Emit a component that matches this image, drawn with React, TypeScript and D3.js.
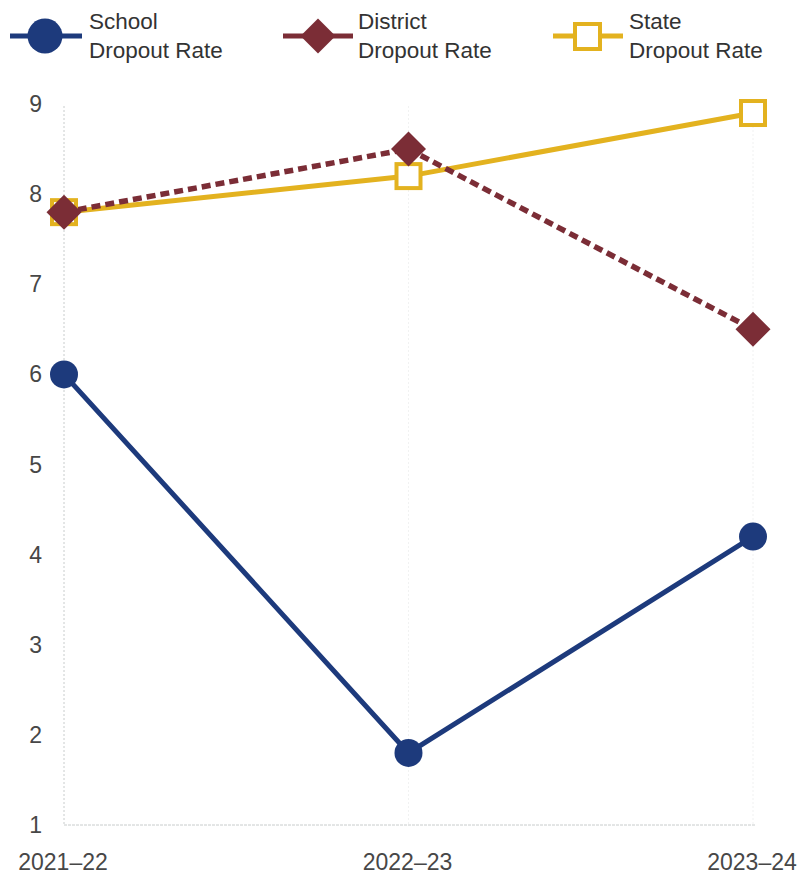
import React from "react";
import * as d3 from "d3";

const years = ["2021–22", "2022–23", "2023–24"];
const schoolRates = [6.0, 1.8, 4.2];
const districtRates = [7.8, 8.5, 6.5];
const stateRates = [7.8, 8.2, 8.9];
const yTicks = [1, 2, 3, 4, 5, 6, 7, 8, 9];

const W = 804;
const H = 880;
const FONT = "'Liberation Sans', Arial, sans-serif";

export default function App() {
  const x = d3.scalePoint<string>().domain(years).range([64, 753]);
  const y = d3.scaleLinear().domain([1, 9]).range([825, 104]);

  const line = d3
    .line<number>()
    .x((_, i) => x(years[i]) as number)
    .y((d) => y(d));

  const blue = "#1d3a7c";
  const maroon = "#7b2d36";
  const gold = "#e3b21f";

  const diamond = (cx: number, cy: number, r: number) =>
    `M${cx},${cy - r}L${cx + r},${cy}L${cx},${cy + r}L${cx - r},${cy}Z`;

  const legendFont = 22.5;
  const labelFont = 23;

  return (
    <svg
      width={W}
      height={H}
      style={{ position: "absolute", left: 0, top: 0, background: "#fff" }}
      fontFamily={FONT}
    >
      <rect width={W} height={H} fill="#fff" />
      {/* faint vertical gridlines */}
      {years.map((yr, i) => (
        <line
          key={yr}
          x1={x(yr)}
          x2={x(yr)}
          y1={y(9) + 2}
          y2={y(1)}
          stroke="#c8cccc"
          strokeWidth={1}
          strokeDasharray="2,2"
          opacity={i === 0 ? 1 : 0.25}
        />
      ))}
      {/* bottom axis line */}
      <line x1={64} x2={755} y1={y(1)} y2={y(1)} stroke="#c8cccc" strokeWidth={1} strokeDasharray="3,1" />

      {/* y tick labels */}
      {yTicks.map((t) => (
        <text key={t} x={42} y={y(t) + 8} fontSize={labelFont} fill="#474747" textAnchor="end">
          {t}
        </text>
      ))}
      {/* x labels */}
      {years.map((yr) => (
        <text key={yr} x={(x(yr) as number) - 1} y={870} fontSize={labelFont} fill="#474747" textAnchor="middle">
          {yr}
        </text>
      ))}

      {/* State line */}
      <path d={line(stateRates) || ""} fill="none" stroke={gold} strokeWidth={5} />
      {/* District line */}
      <path d={line(districtRates) || ""} fill="none" stroke={maroon} strokeWidth={5.5} strokeDasharray="9,5" />
      {/* School line */}
      <path d={line(schoolRates) || ""} fill="none" stroke={blue} strokeWidth={5} />

      {/* State markers */}
      {stateRates.map((v, i) => (
        <rect
          key={"s" + i}
          x={(x(years[i]) as number) - 12}
          y={y(v) - 12}
          width={24}
          height={24}
          fill="#fff"
          stroke={gold}
          strokeWidth={4}
        />
      ))}
      {/* District markers */}
      {districtRates.map((v, i) => (
        <path key={"d" + i} d={diamond(x(years[i]) as number, y(v), 17.5)} fill={maroon} />
      ))}
      {/* School markers */}
      {schoolRates.map((v, i) => (
        <circle key={"c" + i} cx={x(years[i]) as number} cy={y(v)} r={14} fill={blue} />
      ))}

      {/* Legend */}
      <g>
        <line x1={10} x2={82} y1={36} y2={36} stroke={blue} strokeWidth={5} />
        <circle cx={45} cy={36} r={17.5} fill={blue} />
        <text x={89} y={29} fontSize={legendFont} fill="#333">School</text>
        <text x={89} y={58} fontSize={legendFont} fill="#333">Dropout Rate</text>

        <line x1={283} x2={353} y1={36} y2={36} stroke={maroon} strokeWidth={5} />
        <path d={diamond(318, 36, 17.5)} fill={maroon} />
        <text x={358} y={29} fontSize={legendFont} fill="#333">District</text>
        <text x={358} y={58} fontSize={legendFont} fill="#333">Dropout Rate</text>

        <line x1={553} x2={623} y1={36} y2={36} stroke={gold} strokeWidth={5} />
        <rect x={575} y={24} width={25} height={25} fill="#fff" stroke={gold} strokeWidth={4} />
        <text x={629} y={29} fontSize={legendFont} fill="#333">State</text>
        <text x={629} y={58} fontSize={legendFont} fill="#333">Dropout Rate</text>
      </g>
    </svg>
  );
}
